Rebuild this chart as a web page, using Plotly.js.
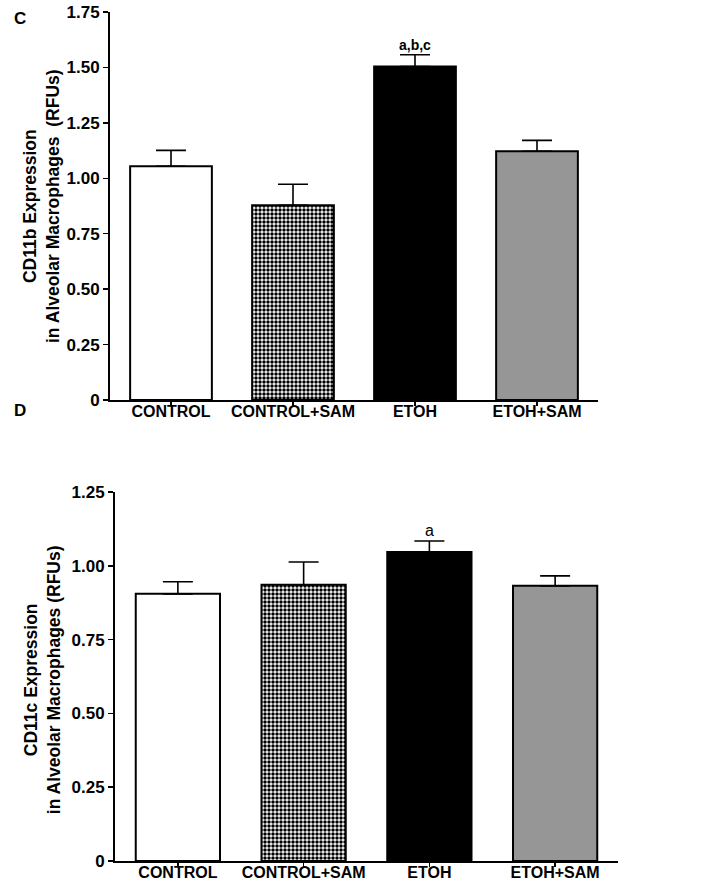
<!DOCTYPE html>
<html>
<head>
<meta charset="utf-8">
<script src="https://cdn.plot.ly/plotly-3.0.1.min.js"></script>
<style>html,body{margin:0;padding:0;background:#fff;}#chart{width:704px;height:884px;}</style>
</head>
<body>
<div id="chart"></div>
<script>
// ---- data ----
const categories = ["CONTROL", "CONTROL+SAM", "ETOH", "ETOH+SAM"];

// Panel C: CD11b
const cd11b_mean = [1.054, 0.878, 1.504, 1.122];
const cd11b_sem  = [0.072, 0.095, 0.053, 0.049];
const cd11b_sig  = ["", "", "a,b,c", ""];
const cd11b_title = "CD11b Expression<br>in Alveolar Macrophages\u00a0\u00a0(RFUs)";

// Panel D: CD11c
const cd11c_mean = [0.905, 0.936, 1.047, 0.932];
const cd11c_sem  = [0.041, 0.077, 0.037, 0.034];
const cd11c_sig  = ["", "", "a", ""];
const cd11c_title = "CD11c Expression<br>in Alveolar Macrophages (RFUs)";

const cd11b_ticks = [0, 0.25, 0.5, 0.75, 1.0, 1.25, 1.5, 1.75];
const cd11b_ticktext = ["0", "0.25", "0.50", "0.75", "1.00", "1.25", "1.50", "1.75"];
const cd11c_ticks = [0, 0.25, 0.5, 0.75, 1.0, 1.25];
const cd11c_ticktext = ["0", "0.25", "0.50", "0.75", "1.00", "1.25"];

const panel_letters = ["C", "D"];

// ---- styles ----
const FONT = "Liberation Sans, Arial, Helvetica, sans-serif";
const fills = ["#ffffff", "#ffffff", "#000000", "#969696"];
const patterns = ["", ".", "", ""];

function barTraces(means, sems, xa, ya) {
  return categories.map((c, i) => {
    const marker = {color: fills[i], line: {color: "#000", width: 2}};
    if (patterns[i]) {
      marker.pattern = {shape: patterns[i], size: 4, solidity: 0.6, fgcolor: "#000", bgcolor: "#fff", fillmode: "replace"};
    }
    return {
      type: "bar",
      x: [c], y: [means[i]],
      xaxis: xa, yaxis: ya,
      width: 0.67,
      marker: marker,
      error_y: {
        type: "data", array: [sems[i]], arrayminus: [0], symmetric: false,
        visible: true, color: "#000", thickness: 1.6, width: 15
      },
      hoverinfo: "skip",
      showlegend: false
    };
  });
}

const data = [].concat(
  barTraces(cd11b_mean, cd11b_sem, "x", "y"),
  barTraces(cd11c_mean, cd11c_sem, "x2", "y2")
);

const annotations = [];
function addSig(labels, means, sems, xref, yref, bold) {
  labels.forEach((t, i) => {
    if (!t) return;
    annotations.push({
      x: categories[i], y: means[i] + sems[i], xref: xref, yref: yref,
      text: t, showarrow: false, yanchor: "bottom", yshift: 0,
      font: {family: FONT, size: bold ? 14 : 16, color: "#000", weight: bold ? "bold" : "normal"}
    });
  });
}
addSig(cd11b_sig, cd11b_mean, cd11b_sem, "x", "y", true);
addSig(cd11c_sig, cd11c_mean, cd11c_sem, "x2", "y2", false);

const letterY = [1 - 18/884, 1 - 410/884];
panel_letters.forEach((L, i) => {
  annotations.push({xref: "paper", yref: "paper", x: 12/704, y: letterY[i], text: L, showarrow: false,
    xanchor: "left", yanchor: "middle", font: {family: FONT, size: 17, weight: "bold", color: "#000"}});
});

const titleFont = {family: FONT, size: 17.5, weight: "bold", color: "#000"};
// y-axis titles (rotated), placed beside each panel's y axis
annotations.push({xref: "paper", yref: "y domain", x: 42/704, y: 0.5, text: cd11b_title, textangle: -90,
  showarrow: false, xanchor: "center", yanchor: "middle", font: titleFont});
annotations.push({xref: "paper", yref: "y2 domain", x: 42/704, y: 0.49, text: cd11c_title, textangle: -90,
  showarrow: false, xanchor: "center", yanchor: "middle", font: titleFont});

const tickFont = {family: FONT, size: 17, weight: "bold", color: "#000"};
const catFont = {family: FONT, size: 16, weight: "bold", color: "#000"};

function xAxis(domain, anchor) {
  return {
    domain: domain, anchor: anchor, type: "category", range: [-0.5, 3.5],
    showline: true, linecolor: "#000", linewidth: 2, ticks: "outside", ticklen: 4, tickwidth: 1.5,
    tickcolor: "#000", tickfont: catFont, ticklabelstandoff: -8,
    showgrid: false, zeroline: false, fixedrange: true
  };
}
function yAxis(domain, anchor, range, tv, tt) {
  return {
    domain: domain, anchor: anchor, range: range, tickvals: tv, ticktext: tt,
    showline: true, linecolor: "#000", linewidth: 2, ticks: "outside", ticklen: 5, tickwidth: 1.5,
    tickcolor: "#000", tickfont: tickFont, showgrid: false, zeroline: false, fixedrange: true
  };
}

const layout = {
  width: 704, height: 884,
  margin: {l: 0, r: 0, t: 0, b: 0},
  paper_bgcolor: "#fff", plot_bgcolor: "#fff",
  barmode: "overlay",
  xaxis: xAxis([110/704, 598/704], "y"),
  yaxis: yAxis([1 - 400/884, 1 - 12/884], "x", [0, 1.75], cd11b_ticks, cd11b_ticktext),
  xaxis2: xAxis([115/704, 618/704], "y2"),
  yaxis2: yAxis([1 - 861/884, 1 - 492/884], "x2", [0, 1.25], cd11c_ticks, cd11c_ticktext),
  annotations: annotations
};

Plotly.newPlot("chart", data, layout, {staticPlot: true, displayModeBar: false});
</script>
</body>
</html>
